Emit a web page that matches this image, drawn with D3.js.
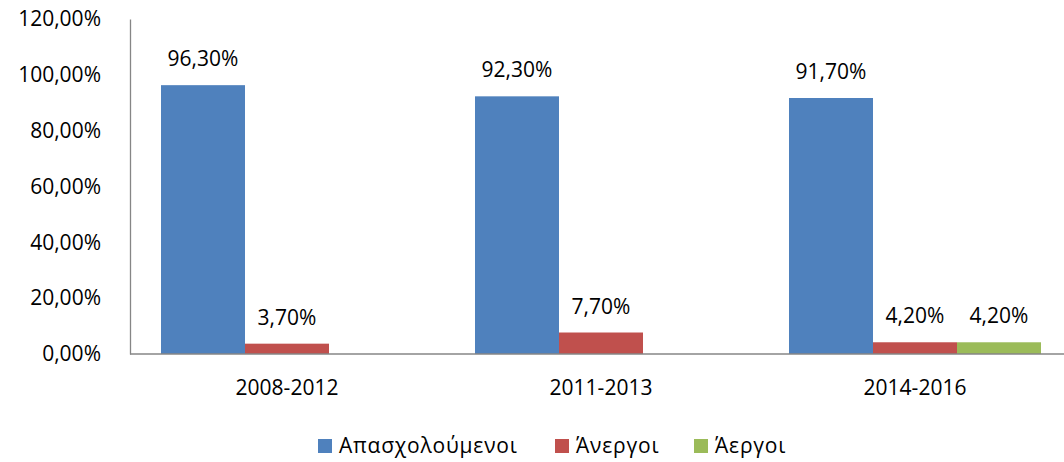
<!DOCTYPE html>
<html>
<head>
<meta charset="utf-8">
<script src="https://cdn.jsdelivr.net/npm/d3@7"></script>
<style>
  html, body { margin: 0; padding: 0; background: #fff; }
  svg { display: block; }
  text { font-family: "Open Sans", "DejaVu Sans", sans-serif; fill: #000; }
</style>
</head>
<body>
<svg id="chart" width="1064" height="462"></svg>
<script>
// Employment status of graduates by period
const categories = ["2008-2012", "2011-2013", "2014-2016"];
const seriesNames = ["Απασχολούμενοι", "Άνεργοι", "Άεργοι"];
const employed   = [96.3, 92.3, 91.7];
const unemployed = [3.7, 7.7, 4.2];
const inactive   = [null, null, 4.2];
const yTicks = [0, 20, 40, 60, 80, 100, 120];
const colors = ["#4F81BD", "#C0504D", "#9BBB59"];

const seriesValues = [employed, unemployed, inactive];
const fmt = v => d3.format(".2f")(v).replace(".", ",") + "%";
const FS = 21;

const svg = d3.select("#chart");
const plot = { left: 130, right: 1072, top: 19, bottom: 354 };

const x0 = d3.scaleBand()
  .domain(categories)
  .range([plot.left, plot.right])
  .paddingInner(0).paddingOuter(0);

const x1 = d3.scaleBand()
  .domain(seriesNames)
  .range([0, x0.bandwidth()])
  .paddingOuter(0.369).paddingInner(0);

const y = d3.scaleLinear().domain([0, 120]).range([plot.bottom, plot.top]);

// Y axis labels (no ticks, no grid)
const yAxis = d3.axisLeft(y).tickValues(yTicks).tickSize(0).tickPadding(29).tickFormat(fmt);
const gy = svg.append("g").attr("transform", `translate(${plot.left},0)`).call(yAxis);
gy.select(".domain").attr("stroke", "#868686").attr("stroke-width", 1.3);
gy.selectAll("text").attr("font-size", FS).style("font-family", null);

// Bars with value labels
const groups = svg.append("g").selectAll("g")
  .data(categories)
  .join("g")
  .attr("transform", d => `translate(${x0(d)},0)`);

groups.each(function(cat, ci) {
  const g = d3.select(this);
  seriesNames.forEach((s, si) => {
    const v = seriesValues[si][ci];
    if (v == null) return;
    g.append("rect")
      .attr("x", x1(s))
      .attr("y", y(v))
      .attr("width", x1.bandwidth())
      .attr("height", y(0) - y(v))
      .attr("fill", colors[si]);
    g.append("text")
      .attr("x", x1(s) + x1.bandwidth() / 2)
      .attr("y", y(v) - 19)
      .attr("text-anchor", "middle")
      .attr("font-size", FS)
      .text(fmt(v));
  });
});

// X axis
const xAxis = d3.axisBottom(x0).tickSize(0).tickPadding(26);
const gx = svg.append("g").attr("transform", `translate(0,${plot.bottom})`).call(xAxis);
gx.select(".domain").attr("d", `M${plot.left},0H1064`).attr("stroke", "#868686").attr("stroke-width", 1.3);
gx.selectAll("text").attr("font-size", FS).style("font-family", null);

// Legend
const legendX = [318, 555, 694];
const legend = svg.append("g").selectAll("g")
  .data(seriesNames)
  .join("g")
  .attr("transform", (d, i) => `translate(${legendX[i]},439)`);
legend.append("rect").attr("width", 14).attr("height", 14).attr("fill", (d, i) => colors[i]);
legend.append("text").attr("x", 21).attr("y", 14).attr("font-size", FS)
  .attr("letter-spacing", 0.8).text(d => d);
</script>
</body>
</html>
